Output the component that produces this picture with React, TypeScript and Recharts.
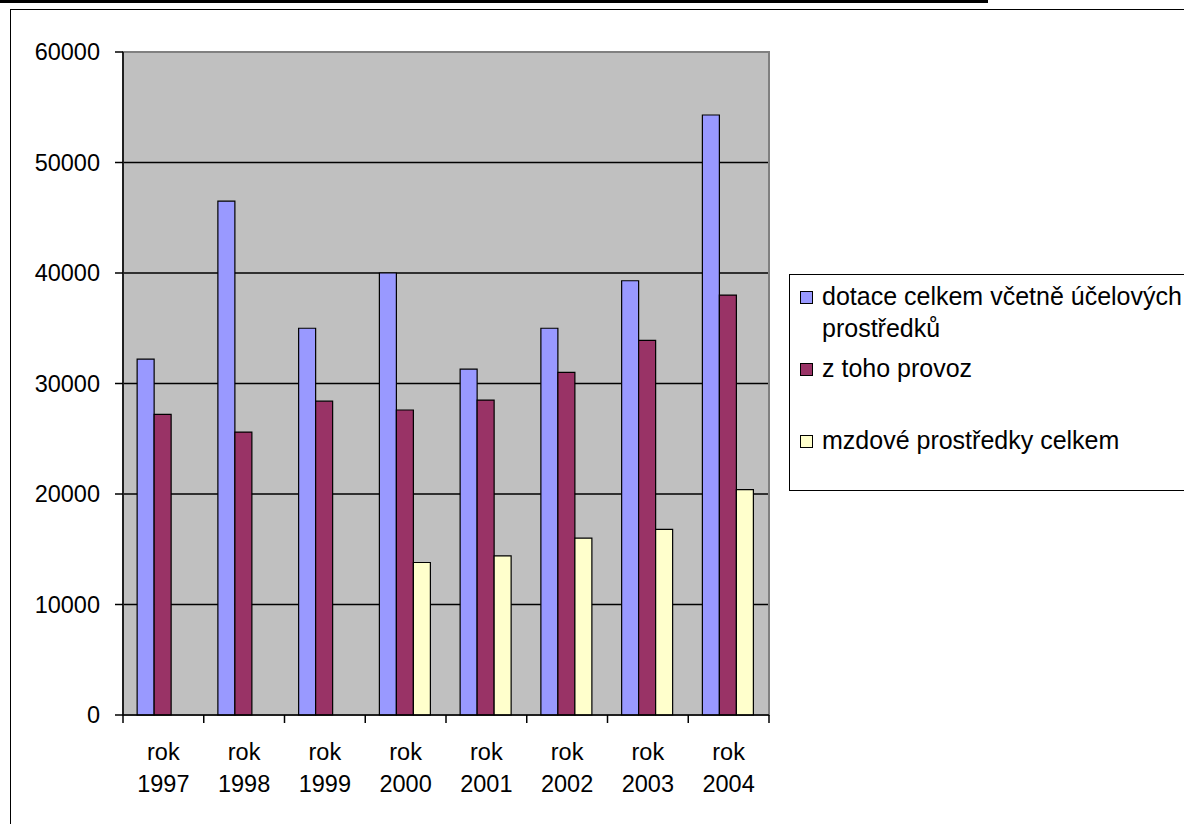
import React from 'react';
import {
  BarChart,
  Bar,
  XAxis,
  YAxis,
  CartesianGrid,
  Legend,
  ReferenceArea,
} from 'recharts';

const years = ['1997', '1998', '1999', '2000', '2001', '2002', '2003', '2004'];
const dotace = [32200, 46500, 35000, 40000, 31300, 35000, 39300, 54300];
const provoz = [27200, 25600, 28400, 27600, 28500, 31000, 33900, 38000];
const mzdy = [null, null, null, 13800, 14400, 16000, 16800, 20400];
const yTicks = [0, 10000, 20000, 30000, 40000, 50000, 60000];

const SERIES = [
  { key: 'dotace', name: 'dotace celkem včetně účelových prostředků', color: '#9999FF' },
  { key: 'provoz', name: 'z toho provoz', color: '#993366' },
  { key: 'mzdy', name: 'mzdové prostředky celkem', color: '#FFFFCC' },
];

const FONT = '"Liberation Sans", Arial, sans-serif';

const chartData = years.map((y, i) => ({
  year: y,
  dotace: dotace[i],
  provoz: provoz[i],
  mzdy: mzdy[i],
}));

// plot box: 123..769 x 52..715
const W = 1184;
const H = 824;
const PLOT_LEFT = 123;
const PLOT_RIGHT = 769;

function YearTick(props: any) {
  const { x, y, payload, index } = props;
  const half = payload?.offset ?? (PLOT_RIGHT - PLOT_LEFT) / years.length / 2;
  const last = index === years.length - 1;
  return (
    <g>
      <line x1={x - half} x2={x - half} y1={y - 8} y2={y} stroke="#000" strokeWidth={1.5} />
      {last && <line x1={x + half} x2={x + half} y1={y - 8} y2={y} stroke="#000" strokeWidth={1.5} />}
      <text x={x} y={y + 37} textAnchor="middle" fontSize={23.5} fontFamily={FONT} fill="#000">
        rok
      </text>
      <text x={x} y={y + 69} textAnchor="middle" fontSize={23.5} fontFamily={FONT} fill="#000">
        {payload.value}
      </text>
    </g>
  );
}

function LegendBox(props: any) {
  // keep the series order, not the alphabetical one
  const items = [...(props.payload || [])].sort(
    (a: any, b: any) =>
      SERIES.findIndex((s) => s.key === a.dataKey) - SERIES.findIndex((s) => s.key === b.dataKey)
  );
  return (
    <div
      style={{
        position: 'relative',
        width: 420,
        height: 217,
        border: '1.5px solid #000',
        boxSizing: 'border-box',
        background: '#fff',
        fontFamily: FONT,
        fontSize: 25,
        lineHeight: '32px',
        color: '#000',
      }}
    >
      {items.map((it: any, i: number) => (
        <div key={i} style={{ position: 'absolute', left: 10, top: 5 + i * 72, display: 'flex' }}>
          <span
            style={{
              width: 13,
              height: 13,
              marginTop: 11,
              background: it.color,
              border: '1.5px solid #000',
              boxSizing: 'border-box',
              flex: 'none',
            }}
          />
          <span style={{ marginLeft: 9, width: 368, whiteSpace: 'normal' }}>{it.value}</span>
        </div>
      ))}
    </div>
  );
}

export default function App() {
  return (
    <div style={{ position: 'absolute', left: 0, top: 0, width: W, height: H, overflow: 'hidden', background: '#fff' }}>
      <div style={{ position: 'absolute', left: 0, top: 0, width: 988, height: 3, background: '#000' }} />
      <div
        style={{
          position: 'absolute',
          left: 10,
          top: 9,
          width: W + 20,
          height: H + 20,
          borderLeft: '1.5px solid #000',
          borderTop: '1.5px solid #000',
        }}
      />
      <div style={{ position: 'absolute', left: 0, top: 0 }}>
        <BarChart
          width={W}
          height={H}
          data={chartData}
          margin={{ top: 52, right: W - PLOT_RIGHT, bottom: 0, left: 0 }}
          barGap={0}
          barCategoryGap="17.5%"
        >
          <CartesianGrid vertical={false} stroke="#000" strokeWidth={1.3} fill="#C0C0C0" fillOpacity={1} />
          <ReferenceArea y1={0} y2={60000} fill="none" stroke="#808080" strokeWidth={2} ifOverflow="visible" />
          <XAxis
            dataKey="year"
            height={109}
            interval={0}
            tickLine={false}
            tickSize={8}
            tickMargin={0}
            axisLine={{ stroke: '#000', strokeWidth: 1.5 }}
            tick={<YearTick />}
          />
          <YAxis
            width={PLOT_LEFT}
            domain={[0, 60000]}
            ticks={yTicks}
            interval={0}
            tickSize={8}
            tickMargin={15}
            axisLine={{ stroke: '#000', strokeWidth: 1.5 }}
            tickLine={{ stroke: '#000', strokeWidth: 1.5 }}
            tick={{ fontSize: 23.5, fill: '#000', fontFamily: FONT }}
          />
          <Legend
            layout="vertical"
            align="center"
            verticalAlign="middle"
            content={<LegendBox />}
            wrapperStyle={{ position: 'absolute', left: 789, top: 274, width: 420, height: 217 }}
          />
          {SERIES.map((s) => (
            <Bar
              key={s.key}
              dataKey={s.key}
              name={s.name}
              fill={s.color}
              stroke="#000"
              strokeWidth={1.2}
              isAnimationActive={false}
            />
          ))}
        </BarChart>
      </div>
    </div>
  );
}
